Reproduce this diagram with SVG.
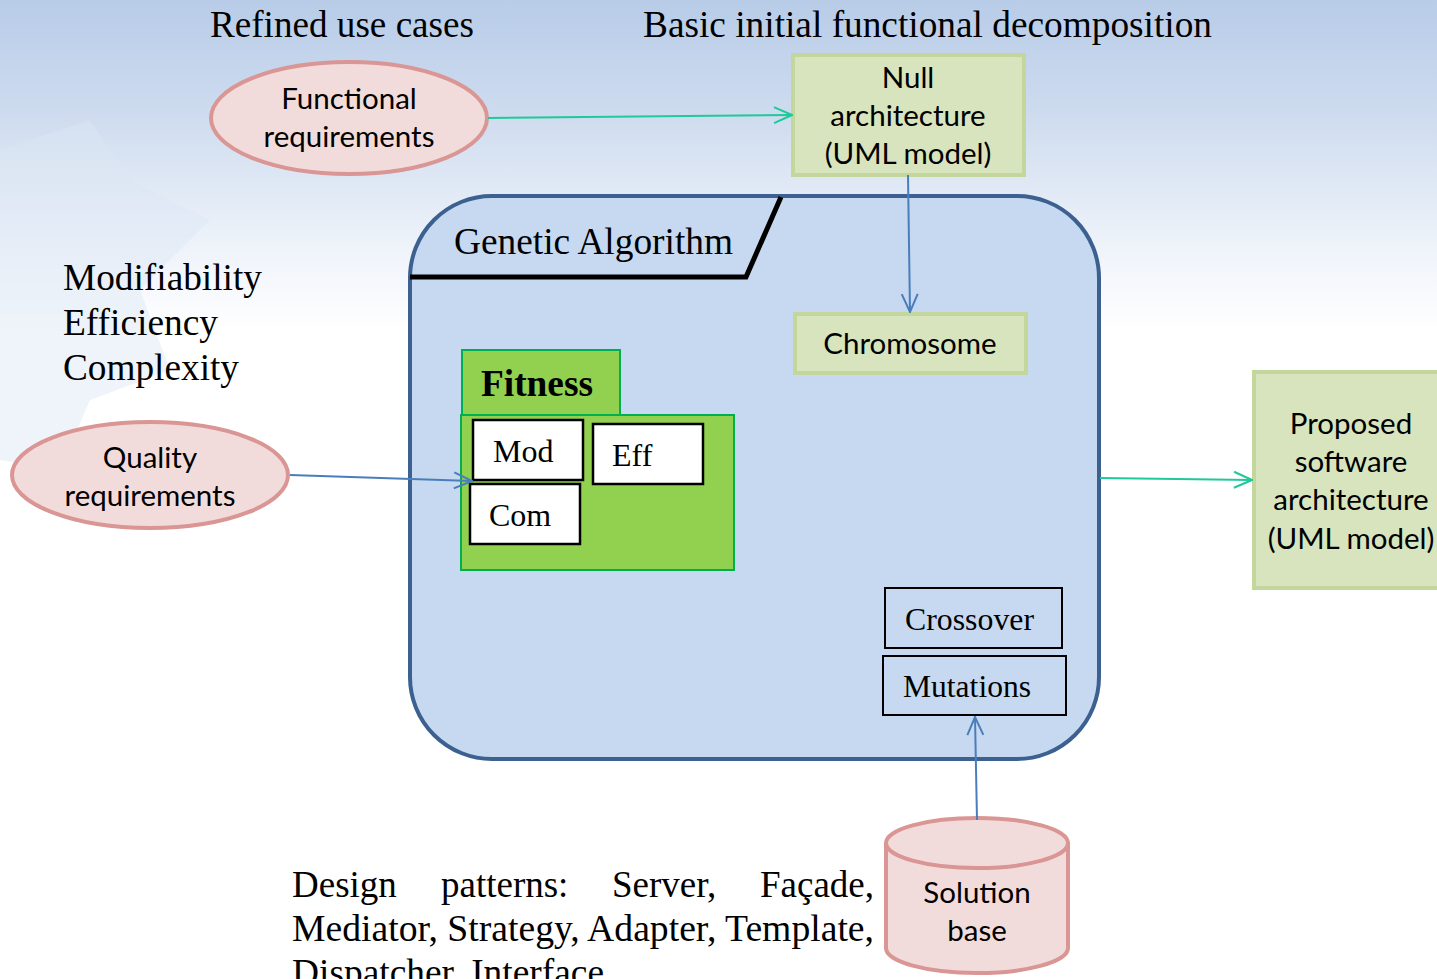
<svg xmlns="http://www.w3.org/2000/svg" width="1437" height="979" viewBox="0 0 1437 979">
<defs>
<linearGradient id="bg" x1="0" y1="0" x2="0" y2="1">
<stop offset="0" stop-color="#b8cce8"/>
<stop offset="0.12" stop-color="#cfdcef"/>
<stop offset="0.25" stop-color="#eef3fa"/>
<stop offset="0.34" stop-color="#ffffff"/>
<stop offset="1" stop-color="#ffffff"/>
</linearGradient>
<marker id="ag" viewBox="0 0 20 20" refX="19" refY="10" markerWidth="20" markerHeight="20" markerUnits="userSpaceOnUse" orient="auto">
<path d="M1,2 L19,10 L1,18" fill="none" stroke="#1fc99a" stroke-width="2"/>
</marker>
<marker id="ab" viewBox="0 0 20 20" refX="19" refY="10" markerWidth="20" markerHeight="20" markerUnits="userSpaceOnUse" orient="auto">
<path d="M1,2 L19,10 L1,18" fill="none" stroke="#4a7ebb" stroke-width="2"/>
</marker>
<style>
.serif{font-family:"Liberation Serif","Times New Roman",serif;fill:#000}
.sans{font-family:Lato,"Open Sans","Noto Sans",sans-serif;fill:#000;font-size:29.5px;text-anchor:middle}
.ell{fill:#f2dcdb;stroke:#d99694;stroke-width:4}
.gbox{fill:#d7e4bd;stroke:#c3d69b;stroke-width:4}
.fit{fill:#92d050;stroke:#00b050;stroke-width:2}
.wbox{fill:#ffffff;stroke:#000;stroke-width:2.5}
.obox{fill:none;stroke:#000;stroke-width:2}
.cg{fill:none;stroke:#1fc99a;stroke-width:2}
.cb{fill:none;stroke:#4a7ebb;stroke-width:2}
</style>
</defs>
<rect x="0" y="0" width="1437" height="979" fill="url(#bg)"/>
<path d="M0,150 L90,120 L130,180 L210,220 L140,290 L170,370 L90,400 L60,470 L0,460 Z" fill="#dbe6f4" opacity="0.45"/>

<g id="titles">
<text class="serif" x="210" y="37" font-size="37" textLength="264" lengthAdjust="spacingAndGlyphs">Refined use cases</text>
<text class="serif" x="643" y="37" font-size="37" textLength="569" lengthAdjust="spacingAndGlyphs">Basic initial functional decomposition</text>
<text class="serif" x="63" y="290" font-size="37" textLength="199" lengthAdjust="spacingAndGlyphs">Modifiability</text>
<text class="serif" x="63" y="335" font-size="37" textLength="155" lengthAdjust="spacingAndGlyphs">Efficiency</text>
<text class="serif" x="63" y="380" font-size="37" textLength="176" lengthAdjust="spacingAndGlyphs">Complexity</text>
</g>

<g id="design-patterns">
<text class="serif" font-size="37" y="897"><tspan x="292">Design</tspan><tspan x="441">patterns:</tspan><tspan x="612">Server,</tspan><tspan x="760">Façade,</tspan></text>
<text class="serif" font-size="37" x="292" y="941" textLength="582" lengthAdjust="spacingAndGlyphs">Mediator, Strategy, Adapter, Template,</text>
<text class="serif" font-size="37" x="292" y="985" textLength="312" lengthAdjust="spacingAndGlyphs">Dispatcher, Interface</text>
</g>

<g id="genetic-algorithm">
<rect x="410" y="196" width="689" height="563" rx="82" ry="82" fill="#c6d9f1" stroke="#3c6190" stroke-width="4"/>
<path d="M410,277 L746,277 L781,197" fill="none" stroke="#000" stroke-width="5"/>
<text class="serif" x="454" y="254" font-size="37" textLength="279" lengthAdjust="spacingAndGlyphs">Genetic Algorithm</text>
</g>

<g id="functional-requirements">
<ellipse class="ell" cx="349" cy="118" rx="138" ry="56"/>
<text class="sans" x="349" y="109">Functional</text>
<text class="sans" x="349" y="147">requirements</text>
</g>

<g id="null-architecture">
<rect class="gbox" x="793" y="55" width="231" height="120"/>
<text class="sans" x="908" y="88">Null</text>
<text class="sans" x="908" y="126">architecture</text>
<text class="sans" x="908" y="164">(UML model)</text>
</g>

<g id="chromosome">
<rect class="gbox" x="795" y="314" width="231" height="59"/>
<text class="sans" x="910" y="354">Chromosome</text>
</g>

<g id="fitness">
<rect class="fit" x="462" y="350" width="158" height="65"/>
<rect class="fit" x="461" y="415" width="273" height="155"/>
<text class="serif" x="481" y="396" font-size="37" font-weight="bold" textLength="112" lengthAdjust="spacingAndGlyphs">Fitness</text>
</g>

<g id="mod">
<rect class="wbox" x="473" y="420" width="110" height="60"/>
<text class="serif" x="493" y="462" font-size="32">Mod</text>
</g>
<g id="eff">
<rect class="wbox" x="593" y="424" width="110" height="60"/>
<text class="serif" x="612" y="466" font-size="32">Eff</text>
</g>
<g id="com">
<rect class="wbox" x="470" y="484" width="110" height="60"/>
<text class="serif" x="489" y="526" font-size="32">Com</text>
</g>

<g id="quality-requirements">
<ellipse class="ell" cx="150" cy="475" rx="138" ry="53"/>
<text class="sans" x="150" y="468">Quality</text>
<text class="sans" x="150" y="506">requirements</text>
</g>

<g id="crossover">
<rect class="obox" x="885" y="588" width="177" height="60"/>
<text class="serif" x="905" y="630" font-size="32" textLength="129" lengthAdjust="spacingAndGlyphs">Crossover</text>
</g>
<g id="mutations">
<rect class="obox" x="883" y="656" width="183" height="59"/>
<text class="serif" x="903" y="697" font-size="32" textLength="128" lengthAdjust="spacingAndGlyphs">Mutations</text>
</g>

<g id="solution-base">
<path d="M886,843 L886,948 A91,25 0 0 0 1068,948 L1068,843 A91,25 0 0 0 886,843 Z" class="ell"/>
<path d="M886,843 A91,25 0 0 0 1068,843" class="ell" fill="none"/>
<text class="sans" x="977" y="903">Solution</text>
<text class="sans" x="977" y="941">base</text>
</g>

<g id="proposed-architecture">
<rect class="gbox" x="1254" y="372" width="200" height="216"/>
<text class="sans" x="1351" y="434">Proposed</text>
<text class="sans" x="1351" y="472">software</text>
<text class="sans" x="1351" y="510">architecture</text>
<text class="sans" x="1351" y="549">(UML model)</text>
</g>

<g id="connectors">
<path class="cg" d="M488,118 L792,115" marker-end="url(#ag)"/>
<path class="cb" d="M908,175 L910,312" marker-end="url(#ab)"/>
<path class="cb" d="M290,475 L472,481" marker-end="url(#ab)"/>
<path class="cb" d="M977,820 L975,717" marker-end="url(#ab)"/>
<path class="cg" d="M1100,478 L1252,480" marker-end="url(#ag)"/>
</g>
</svg>
